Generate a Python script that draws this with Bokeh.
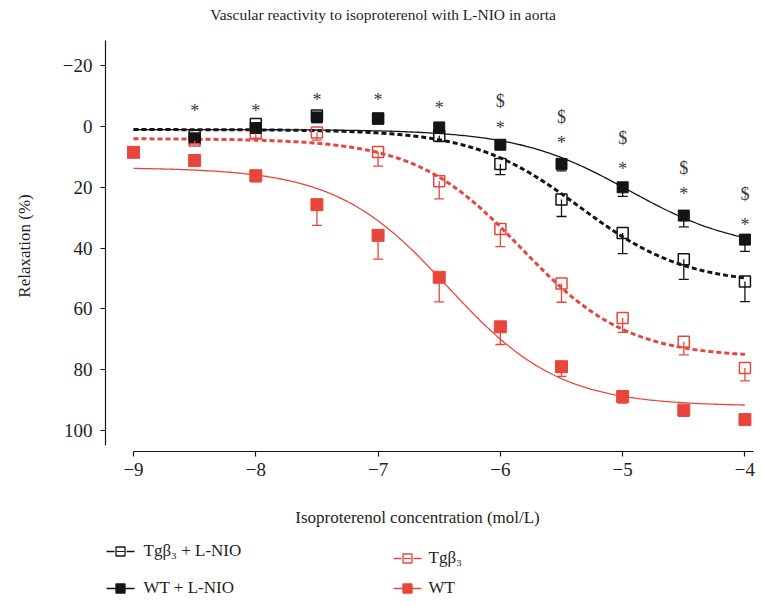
import numpy as np
from bokeh.plotting import figure
from bokeh.layouts import column
from bokeh.models import Range1d, FixedTicker, Whisker, TeeHead, ColumnDataSource
from bokeh.core.properties import value
from bokeh.embed import file_html
from bokeh.resources import INLINE

# ---------------- data ----------------
log_conc = [-9, -8.5, -8, -7.5, -7, -6.5, -6, -5.5, -5, -4.5, -4]

wt_mean = [8.5, 11.2, 16.2, 25.7, 35.8, 49.6, 65.9, 79.0, 88.8, 93.3, 96.4]
wt_err = [0.8, 0.6, 2.0, 6.8, 7.8, 8.1, 5.8, 3.2, 2.2, 2.0, 0.8]

tg_x = [-8.5, -8, -7.5, -7, -6.5, -6, -5.5, -5, -4.5, -4]
tg_mean = [4.6, 2.3, 2.0, 8.4, 18.0, 33.7, 51.6, 63.0, 70.8, 79.4]
tg_err = [1.0, 1.5, 2.5, 4.6, 5.8, 5.8, 6.2, 4.7, 4.3, 4.3]

tgl_x = [-8.5, -8, -7.5, -7, -6.5, -6, -5.5, -5, -4.5, -4]
tgl_mean = [3.0, -0.8, -3.6, -2.6, 3.0, 12.3, 24.0, 35.0, 43.7, 51.0]
tgl_err = [0.8, 1.0, 1.0, 1.0, 2.0, 3.5, 5.6, 6.8, 6.6, 6.6]

wtl_x = [-8.5, -8, -7.5, -7, -6.5, -6, -5.5, -5, -4.5, -4]
wtl_mean = [3.9, 0.5, -3.0, -2.6, 0.3, 6.0, 12.3, 20.0, 29.3, 37.2]
wtl_err = [0.5, 0.8, 0.8, 0.8, 1.0, 1.2, 2.3, 3.0, 3.7, 3.9]

# fitted sigmoid parameters (bottom, top, logEC50, hill slope)
wt_fit = (13.5, 92.0, -6.43, 0.95)
tg_fit = (4.0, 76.0, -5.83, 1.0)
wtl_fit = (1.0, 41.0, -4.95, 0.95)
tgl_fit = (1.0, 52.0, -5.35, 1.0)

# significance marks
star_x = [-8.5, -8, -7.5, -7, -6.5, -6, -5.5, -5, -4.5, -4]
star_level = [-6.6, -6.9, -10.5, -10.2, -7.6, -1.0, 3.9, 12.2, 20.4, 30.9]
dollar_x = [-6, -5.5, -5, -4.5, -4]
dollar_level = [-8.6, -3.6, 3.6, 13.2, 22.0]

x_ticks = [-9, -8, -7, -6, -5, -4]
y_ticks = [-20, 0, 20, 40, 60, 80, 100]

series_labels = ["Tg\u03b2\u2083 + L-NIO", "WT + L-NIO", "Tg\u03b2\u2083", "WT"]
title_text = "Vascular reactivity to isoproterenol with L-NIO in aorta"
x_label = "Isoproterenol concentration (mol/L)"
y_label = "Relaxation (%)"

# ---------------- styling ----------------
RED = "#E8463D"
BLACK = "#141414"
TXT = "#231f20"
FONT = "Liberation Serif"
W = 758
LB, RB = 105, 5          # left / right borders shared by all stacked figures


def strip_fig(y0, y1):
    """A figure without axes whose data coordinates equal page pixels."""
    f = figure(width=W, height=y1 - y0, output_backend="svg", toolbar_location=None,
               x_range=Range1d(LB, W - RB), y_range=Range1d(y1, y0),
               x_axis_type=None, y_axis_type=None,
               min_border_left=LB, min_border_right=RB,
               min_border_top=0, min_border_bottom=0)
    f.outline_line_color = None
    f.grid.grid_line_color = None
    return f


# ---------------- title strip (page y 0..28) ----------------
top = strip_fig(0, 28)
top.text(x=[382.5], y=[14], text=[title_text], text_font=value(FONT),
         text_font_size="15.5px", text_align="center", text_baseline="middle",
         text_color=TXT)

# ---------------- main plot (page y 28..500) ----------------
p = figure(width=W, height=472, output_backend="svg", toolbar_location=None,
           x_range=Range1d(-9.229, -3.930), y_range=Range1d(106.9, -28.29),
           min_border_left=LB, min_border_right=RB, min_border_top=12,
           min_border_bottom=49)
p.outline_line_color = None
p.grid.grid_line_color = None

for ax in (p.xaxis[0], p.yaxis[0]):
    ax.axis_line_color = BLACK
    ax.axis_line_width = 1.2
    ax.major_tick_line_color = BLACK
    ax.major_tick_line_width = 1.2
    ax.major_tick_in = 0
    ax.major_tick_out = 5
    ax.minor_tick_line_color = None
    ax.major_label_text_font = FONT
    ax.major_label_text_font_size = "19px"
    ax.major_label_text_color = TXT
    ax.axis_label_text_font = FONT
    ax.axis_label_text_font_size = "17px"
    ax.axis_label_text_font_style = "normal"
    ax.axis_label_text_color = TXT

xa = p.xaxis[0]
xa.ticker = FixedTicker(ticks=x_ticks)
xa.major_label_overrides = {t: ("\u2212" + str(abs(t)) if t < 0 else str(t)) for t in x_ticks}
xa.bounds = (-9, -3.930)
xa.major_label_standoff = 6

ya = p.yaxis[0]
ya.ticker = FixedTicker(ticks=y_ticks)
ya.major_label_overrides = {t: ("\u2212" + str(abs(t)) if t < 0 else str(t)) for t in y_ticks}
ya.bounds = (-28.29, 104.9)
ya.axis_label = y_label
ya.major_label_standoff = 8
ya.axis_label_standoff = 26


def hill(params, xs):
    bottom, top_, ec50, h = params
    return bottom + (top_ - bottom) / (1.0 + 10 ** ((ec50 - xs) * h))


xs = np.linspace(-9, -4, 300)

p.line(xs, hill(tg_fit, xs), line_color=RED, line_width=3, line_dash="5 3")
p.line(xs, hill(wt_fit, xs), line_color=RED, line_width=1.3)
p.line(xs, hill(tgl_fit, xs), line_color=BLACK, line_width=3, line_dash="5 3")
p.line(xs, hill(wtl_fit, xs), line_color=BLACK, line_width=1.3)


def errbars(xv, m, e, color):
    src = ColumnDataSource(dict(x=xv, lo=m, hi=[a + b for a, b in zip(m, e)]))
    w = Whisker(base="x", lower="lo", upper="hi", source=src, dimension="height",
                line_color=color, line_width=1.3, lower_head=None,
                upper_head=TeeHead(size=10, line_color=color, line_width=1.3))
    w.level = "glyph"
    p.add_layout(w)


errbars(tg_x, tg_mean, tg_err, RED)
errbars(log_conc, wt_mean, wt_err, RED)
errbars(tgl_x, tgl_mean, tgl_err, BLACK)
errbars(wtl_x, wtl_mean, wtl_err, BLACK)

p.scatter(tg_x, tg_mean, marker="square", size=11, fill_color=None,
          line_color=RED, line_width=1.5)
p.scatter(log_conc, wt_mean, marker="square", size=12, fill_color=RED,
          line_color=RED, line_width=1)
p.scatter(tgl_x, tgl_mean, marker="square", size=11, fill_color=None,
          line_color=BLACK, line_width=1.5)
p.scatter(wtl_x, wtl_mean, marker="square", size=11, fill_color=BLACK,
          line_color=BLACK, line_width=1)

p.text(x=star_x, y=star_level, text=["*"] * len(star_x), text_font=value(FONT),
       text_font_size="18px", text_align="center", text_baseline="middle",
       text_color="#3a3a3a", y_offset=5)
p.text(x=dollar_x, y=dollar_level, text=["$"] * len(dollar_x), text_font=value(FONT),
       text_font_size="18px", text_align="center", text_baseline="middle",
       text_color="#3a3a3a", y_offset=1)

# ---------------- x label + legend strip (page y 500..601) ----------------
leg = strip_fig(500, 601)
leg.text(x=[417], y=[517], text=[x_label], text_font=value(FONT),
         text_font_size="17px", text_align="center", text_baseline="middle",
         text_color=TXT)
# (glyph left, row y, colour, dashed?, filled?, label)
entries = [(106, 551, BLACK, True, False, series_labels[0]),
           (106, 588, BLACK, False, True, series_labels[1]),
           (393, 558, RED, True, False, series_labels[2]),
           (393, 588, RED, False, True, series_labels[3])]
for gx, gy, col, dashed, filled, lab in entries:
    if dashed:
        leg.segment(x0=[gx], y0=[gy], x1=[gx + 8], y1=[gy], line_color=col, line_width=1.5)
        leg.segment(x0=[gx + 20], y0=[gy], x1=[gx + 28], y1=[gy], line_color=col, line_width=1.5)
    else:
        leg.segment(x0=[gx], y0=[gy], x1=[gx + 28], y1=[gy], line_color=col, line_width=1.5)
    leg.scatter(x=[gx + 14], y=[gy], marker="square", size=9,
                fill_color=col if filled else None, line_color=col, line_width=1.3)
    if not filled:
        leg.segment(x0=[gx + 10], y0=[gy], x1=[gx + 18], y1=[gy], line_color=col, line_width=1.2)
    leg.text(x=[gx + (37 if gx < 200 else 35)], y=[gy - 1], text=[lab], text_font=value(FONT),
             text_font_size="17px", text_align="left", text_baseline="middle",
             text_color=TXT)

layout = column(top, p, leg, spacing=0)
open("out.html", "w").write(file_html(layout, INLINE))
